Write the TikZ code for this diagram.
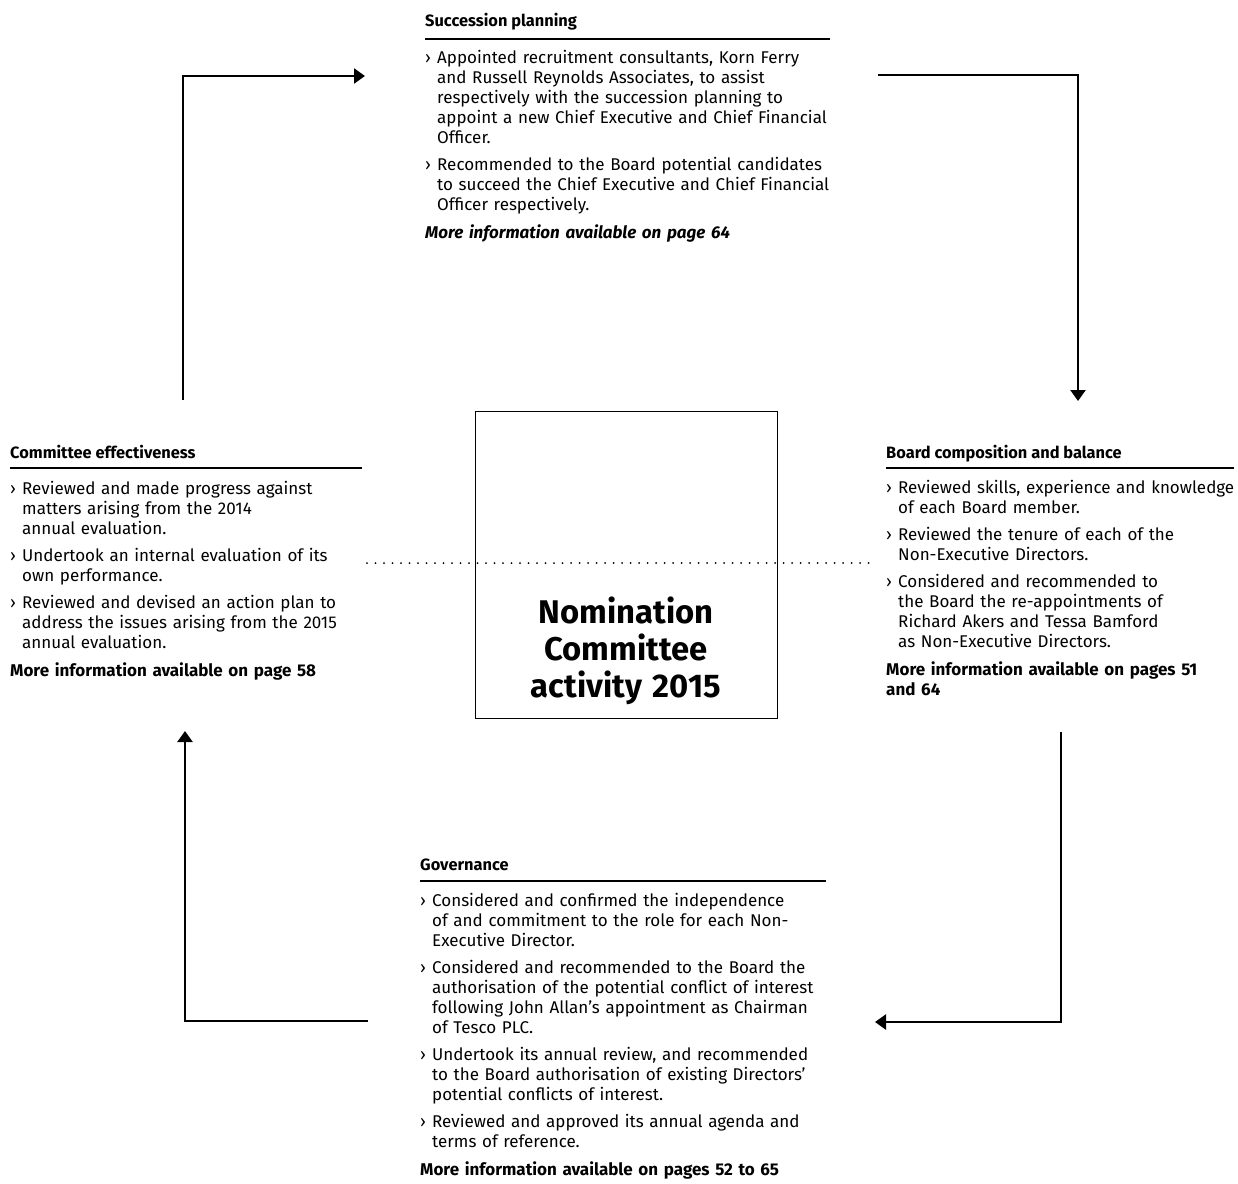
\documentclass[tikz,border=0pt]{standalone}
\usepackage{fontspec}
\setmainfont{Fira Sans}
\usetikzlibrary{arrows.meta}
\newcommand{\fitm}{\hangindent=12pt\hangafter=1\noindent\makebox[12pt][l]{›}}
\newcommand{\itm}{\par\vspace{7pt}\fitm}
\newcommand{\moreinfo}[1]{\par\vspace{8pt}\noindent{\bfseries #1}}
\begin{document}
\begin{tikzpicture}[x=1pt,y=-1pt,
  bodytext/.style={anchor=base west, inner sep=0pt, text width=#1, align=left,
    font=\fontsize{17}{20}\selectfont},
  headtext/.style={anchor=base west, inner sep=0pt, font=\fontsize{16.4}{18}\selectfont\bfseries},
  rulel/.style={line width=1.2pt},
  flow/.style={line width=2.4pt, line join=miter, -{Triangle[length=11pt,width=15pt]}},
  dots/.style={line width=2pt, line cap=round, dash pattern=on 0pt off 8.5pt},
  centrebox/.style={draw, line width=1.3pt, inner sep=0pt, minimum width=302pt, minimum height=307pt, anchor=north west},
  titletext/.style={anchor=base, inner sep=0pt, text width=300pt, align=center,
    font=\fontsize{32.8}{37}\selectfont\bfseries}
]
\useasboundingbox[fill=white] (0,0) rectangle (1238,1183);

% centre box
\node[centrebox] (box) at (475,411) {};
\node[titletext] (title) at (626,623) {Nomination\\Committee\\activity 2015};

% dotted line
\coordinate (dl) at (367,563);
\coordinate (dr) at (870,563);
\draw[dots] (dl) -- (dr);

% Succession planning
\node[headtext] (hsp) at (425,26) {Succession planning};
\draw[rulel] (hsp.base west) ++(0,13) -- ++(405,0);
\node[bodytext=480pt] (bsp) at (425,63) {%
\fitm Appointed recruitment consultants, Korn Ferry\newline and Russell Reynolds Associates, to assist\newline respectively with the succession planning to\newline appoint a new Chief Executive and Chief Financial\newline Officer.
\itm Recommended to the Board potential candidates\newline to succeed the Chief Executive and Chief Financial\newline Officer respectively.
\moreinfo{\itshape More information available on page 64}};

% Committee effectiveness
\node[headtext] (hce) at (10,458) {Committee effectiveness};
\draw[rulel] (hce.base west) ++(0,10) -- ++(352,0);
\node[bodytext=420pt] (bce) at (10,494) {%
\fitm Reviewed and made progress against\newline matters arising from the 2014\newline annual evaluation.
\itm Undertook an internal evaluation of its\newline own performance.
\itm Reviewed and devised an action plan to\newline address the issues arising from the 2015\newline annual evaluation.
\moreinfo{More information available on page 58}};

% Board composition and balance
\node[headtext] (hbc) at (886,458) {Board composition and balance};
\draw[rulel] (hbc.base west) ++(0,10) -- ++(348,0);
\node[bodytext=420pt] (bbc) at (886,493) {%
\fitm Reviewed skills, experience and knowledge\newline of each Board member.
\itm Reviewed the tenure of each of the\newline Non-Executive Directors.
\itm Considered and recommended to\newline the Board the re-appointments of\newline Richard Akers and Tessa Bamford\newline as Non-Executive Directors.
\moreinfo{More information available on pages 51\newline and 64}};

% Governance
\node[headtext] (hgv) at (420,870) {Governance};
\draw[rulel] (hgv.base west) ++(0,11) -- ++(406,0);
\node[bodytext=480pt] (bgv) at (420,906) {%
\fitm Considered and confirmed the independence\newline of and commitment to the role for each Non-\newline Executive Director.
\itm Considered and recommended to the Board the\newline authorisation of the potential conflict of interest\newline following John Allan’s appointment as Chairman\newline of Tesco PLC.
\itm Undertook its annual review, and recommended\newline to the Board authorisation of existing Directors’\newline potential conflicts of interest.
\itm Reviewed and approved its annual agenda and\newline terms of reference.
\moreinfo{More information available on pages 52 to 65}};

% flow arrows
\coordinate (a1s) at (183,400);
\coordinate (a1e) at (365,76);
\draw[flow] (a1s) |- (a1e);
\coordinate (a2s) at (878,75);
\coordinate (a2e) at (1078,401);
\draw[flow] (a2s) -| (a2e);
\coordinate (a3s) at (1061,732);
\coordinate (a3e) at (875,1022);
\draw[flow] (a3s) |- (a3e);
\coordinate (a4s) at (368,1021);
\coordinate (a4e) at (185,731);
\draw[flow] (a4s) -| (a4e);
\end{tikzpicture}
\end{document}
